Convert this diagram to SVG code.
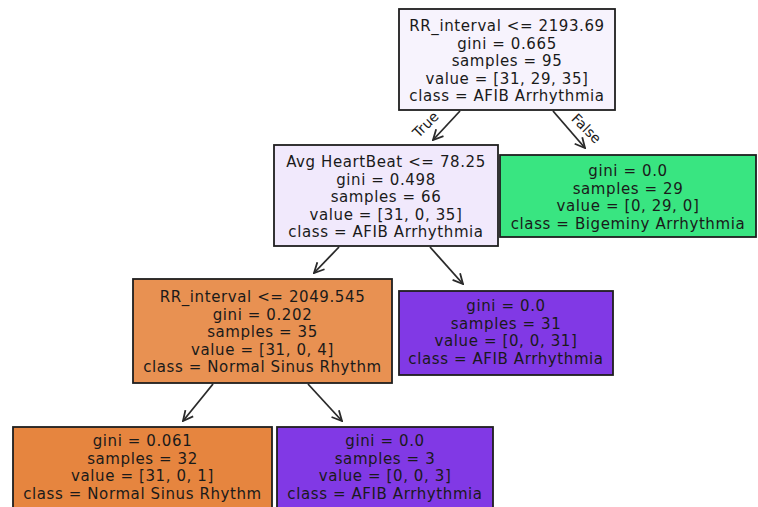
<svg xmlns="http://www.w3.org/2000/svg" width="758" height="507" viewBox="0 0 758 507">
<style>
.box{stroke:#1e1e1e;stroke-width:1.8}
.t{font-family:"DejaVu Sans",Verdana,sans-serif;font-size:15px;letter-spacing:0.6px;fill:#1a1a1a;text-anchor:middle}
.lbl{font-family:"DejaVu Sans",Verdana,sans-serif;font-size:14px;fill:#1a1a1a;text-anchor:middle}
.e{stroke:#2a2a2a;stroke-width:1.8;fill:none;marker-end:url(#ah)}
</style>
<defs>
<marker id="ah" viewBox="0 0 12 12" refX="11" refY="6" markerWidth="12" markerHeight="12" markerUnits="userSpaceOnUse" orient="auto">
<path d="M1,1 L11,6 L1,11" fill="none" stroke="#2a2a2a" stroke-width="1.8"/>
</marker>
</defs>
<rect width="758" height="507" fill="#ffffff"/>
<g id="edges">
<line class="e" x1="460" y1="111" x2="433" y2="140"/>
<line class="e" x1="553" y1="111" x2="585" y2="148"/>
<line class="e" x1="339" y1="247" x2="314" y2="273"/>
<line class="e" x1="430" y1="247" x2="463" y2="284"/>
<line class="e" x1="213" y1="384" x2="183" y2="421"/>
<line class="e" x1="308" y1="384" x2="342" y2="421"/>
<text class="lbl" transform="translate(429,128) rotate(-45)">True</text>
<text class="lbl" transform="translate(583,132) rotate(45)">False</text>
</g>
<g id="n0">
<rect class="box" x="399" y="9" width="216" height="101" fill="#f7f3fd"/>
<text class="t" x="507" y="31">RR_interval &lt;= 2193.69</text>
<text class="t" x="507" y="48.5">gini = 0.665</text>
<text class="t" x="507" y="66">samples = 95</text>
<text class="t" x="507" y="83.5">value = [31, 29, 35]</text>
<text class="t" x="507" y="101">class = AFIB Arrhythmia</text>
</g>
<g id="n1">
<rect class="box" x="274" y="145" width="224" height="101" fill="#f1e9fc"/>
<text class="t" x="386" y="167">Avg HeartBeat &lt;= 78.25</text>
<text class="t" x="386" y="184.5">gini = 0.498</text>
<text class="t" x="386" y="202">samples = 66</text>
<text class="t" x="386" y="219.5">value = [31, 0, 35]</text>
<text class="t" x="386" y="237">class = AFIB Arrhythmia</text>
</g>
<g id="n2">
<rect class="box" x="500" y="155" width="256" height="82" fill="#39e581"/>
<text class="t" x="628" y="176">gini = 0.0</text>
<text class="t" x="628" y="193.5">samples = 29</text>
<text class="t" x="628" y="211">value = [0, 29, 0]</text>
<text class="t" x="628" y="228.5">class = Bigeminy Arrhythmia</text>
</g>
<g id="n3">
<rect class="box" x="133" y="279" width="259" height="104" fill="#e89152"/>
<text class="t" x="262.5" y="302">RR_interval &lt;= 2049.545</text>
<text class="t" x="262.5" y="319.5">gini = 0.202</text>
<text class="t" x="262.5" y="337">samples = 35</text>
<text class="t" x="262.5" y="354.5">value = [31, 0, 4]</text>
<text class="t" x="262.5" y="372">class = Normal Sinus Rhythm</text>
</g>
<g id="n4">
<rect class="box" x="399" y="291" width="214" height="84" fill="#8139e5"/>
<text class="t" x="506" y="311">gini = 0.0</text>
<text class="t" x="506" y="328.5">samples = 31</text>
<text class="t" x="506" y="346">value = [0, 0, 31]</text>
<text class="t" x="506" y="363.5">class = AFIB Arrhythmia</text>
</g>
<g id="n5">
<rect class="box" x="13" y="427" width="259" height="90" fill="#e6853f"/>
<text class="t" x="142.5" y="446">gini = 0.061</text>
<text class="t" x="142.5" y="463.5">samples = 32</text>
<text class="t" x="142.5" y="481">value = [31, 0, 1]</text>
<text class="t" x="142.5" y="498.5">class = Normal Sinus Rhythm</text>
</g>
<g id="n6">
<rect class="box" x="277" y="427" width="216" height="90" fill="#8139e5"/>
<text class="t" x="385" y="446">gini = 0.0</text>
<text class="t" x="385" y="463.5">samples = 3</text>
<text class="t" x="385" y="481">value = [0, 0, 3]</text>
<text class="t" x="385" y="498.5">class = AFIB Arrhythmia</text>
</g>
</svg>
